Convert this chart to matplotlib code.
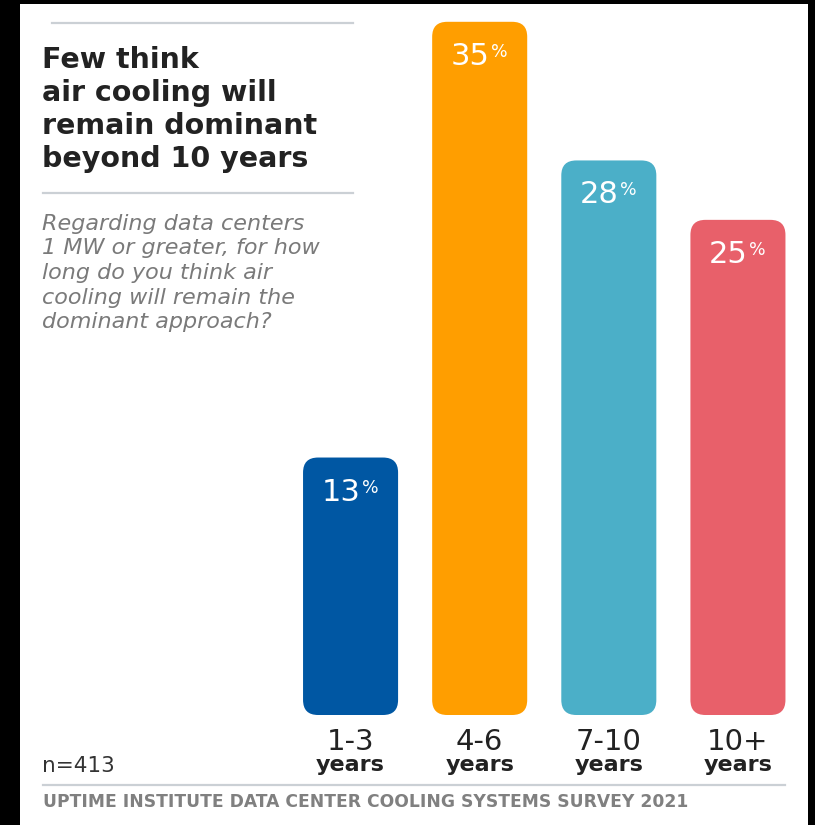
import matplotlib.pyplot as plt
from matplotlib.patches import FancyBboxPatch, Rectangle

# data
categories = ["1-3", "4-6", "7-10", "10+"]
shares = [13, 35, 28, 25]
bar_colors = ["#0057A3", "#FF9E00", "#4BAFC8", "#E8606A"]

title_lines = ["Few think", "air cooling will", "remain dominant", "beyond 10 years"]
question_lines = ["Regarding data centers", "1 MW or greater, for how",
                  "long do you think air", "cooling will remain the",
                  "dominant approach?"]
sample_note = "n=413"
source_note = "UPTIME INSTITUTE DATA CENTER COOLING SYSTEMS SURVEY 2021"

W, H = 815, 825


def fx(x):
    return x / W


def fy(y):
    return 1 - y / H


fig = plt.figure(figsize=(W / 100, H / 100), dpi=100, facecolor="black")
fig.patches.append(Rectangle((fx(20), 0), fx(808) - fx(20), fy(4),
                             transform=fig.transFigure, facecolor="white",
                             edgecolor="none", zorder=-10))

# rules
rule_color = "#CBD0D5"
for y, x0 in [(23, 52), (193, 43), (785, 43)]:
    x1 = 353 if y < 700 else 785
    fig.add_artist(plt.Line2D([fx(x0), fx(x1)], [fy(y), fy(y)],
                              transform=fig.transFigure, color=rule_color, lw=1.6))

# title and question
for i, line in enumerate(title_lines):
    fig.text(fx(42), fy(68 + 33 * i), line, fontsize=20.5, fontweight="bold",
             family="DejaVu Sans", color="#222222", va="baseline")
for i, line in enumerate(question_lines):
    fig.text(fx(42), fy(230 + 24.5 * i), line, fontsize=16, style="italic",
             family="DejaVu Sans", color="#7A7A7A", va="baseline")

fig.text(fx(42), fy(772), sample_note, fontsize=15.5, family="DejaVu Sans",
         color="#333333", va="baseline")
fig.text(fx(43), fy(807), source_note, fontsize=12.3, family="DejaVu Sans",
         fontweight="bold", color="#808080", va="baseline")

# bar chart
ax = fig.add_axes([fx(286), fy(715), fx(802.5) - fx(286), fy(2) - fy(715)])
ax.set_xlim(-0.5, 3.5)
ax.set_ylim(0, 36)
ax.axis("off")

px_per_x = (802.5 - 286) / 4
px_per_y = 713 / 36
radius = 15 / px_per_x
aspect = px_per_x / px_per_y

xs = range(len(categories))
bars = ax.bar(xs, shares, width=0.736, color=bar_colors)
for bar, color in zip(bars, bar_colors):
    x0, w, h = bar.get_x(), bar.get_width(), bar.get_height()
    bar.remove()
    ax.add_patch(FancyBboxPatch((x0, 0), w, h,
                                boxstyle=f"round,pad=0,rounding_size={radius}",
                                mutation_aspect=aspect, facecolor=color,
                                edgecolor="none"))

for x, v, cat in zip(xs, shares, categories):
    ax.annotate(str(v), (x, v), xytext=(10, -20), textcoords="offset pixels",
                ha="right", va="top", fontsize=22, family="DejaVu Sans",
                color="white")
    ax.annotate("%", (x, v), xytext=(11, -21), textcoords="offset pixels",
                ha="left", va="top", fontsize=12.5, family="DejaVu Sans",
                color="white")
    ax.annotate(cat, (x, 0), xytext=(0, -35), textcoords="offset pixels",
                ha="center", va="baseline", fontsize=21, family="DejaVu Sans",
                color="#222222", annotation_clip=False)
    ax.annotate("years", (x, 0), xytext=(0, -56), textcoords="offset pixels",
                ha="center", va="baseline", fontsize=16, family="DejaVu Sans",
                fontweight="bold", color="#222222", annotation_clip=False)

fig.savefig("out.png", dpi=100, facecolor=fig.get_facecolor())
